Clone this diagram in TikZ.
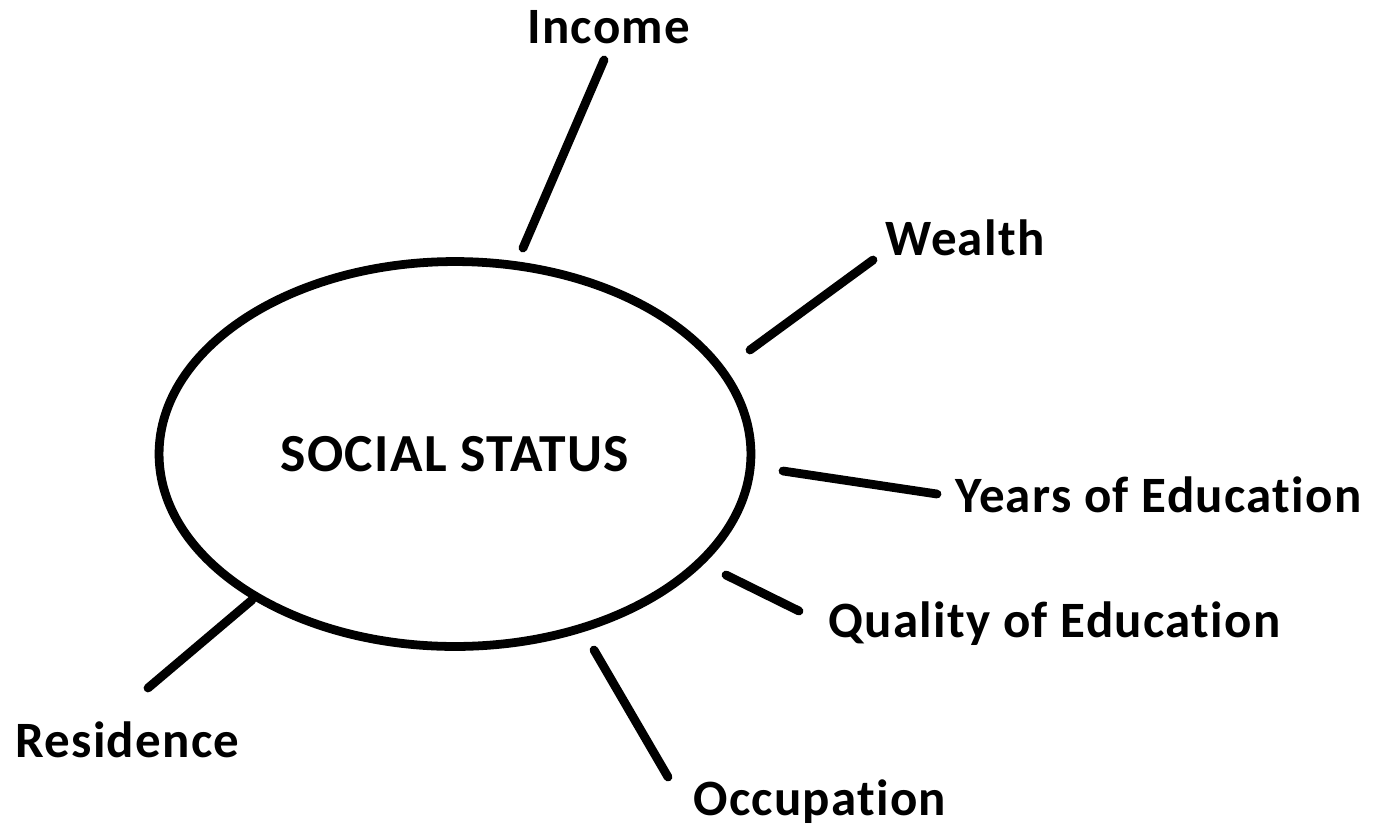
\documentclass[tikz,border=0pt]{standalone}
\usepackage{fontspec}
\setmainfont{Carlito}[LetterSpace=2.5, Ligatures={NoCommon}]
\usetikzlibrary{shapes.geometric}

\begin{document}
\begin{tikzpicture}[x=0.02cm, y=-0.02cm,
  label/.style={font=\bfseries\fontsize{29}{34}\selectfont, inner sep=0pt},
  spoke/.style={line width=5pt, line cap=round}]
  % 画布大小（单位为像素，y 轴向下）
  \useasboundingbox (0,0) rectangle (1377,826);

  % 1. 中心椭圆
  \node[ellipse, draw, line width=5pt, minimum width=11.84cm, minimum height=7.7cm,
        inner sep=0pt, font=\bfseries\fontsize{30.5}{34}\selectfont] (status) at (455,454) {SOCIAL STATUS};

  % 2. 各项指标文字
  \node[label, anchor=base west] (income)  at (527,43)  {Income};
  \node[label, anchor=base west] (wealth)  at (885,255) {Wealth};
  \node[label, anchor=base west] (years)   at (955,512) {Years of Education};
  \node[label, anchor=base west] (quality) at (828,637) {Quality of Education};
  \node[label, anchor=base west] (occup)   at (693,815) {Occupation};
  \node[label, anchor=base west] (resid)   at (15,757)  {Residence};

  % 3. 连线端点
  \coordinate (inc-a) at (523,248);  \coordinate (inc-b) at (604,60);
  \coordinate (wea-a) at (750,350);  \coordinate (wea-b) at (873,260);
  \coordinate (yea-a) at (783,471);  \coordinate (yea-b) at (937,494);
  \coordinate (qua-a) at (726,575);  \coordinate (qua-b) at (799,611);
  \coordinate (occ-a) at (594,650);  \coordinate (occ-b) at (668,777);
  \coordinate (res-a) at (252,600);  \coordinate (res-b) at (148,688);

  % 4. 连线
  \draw[spoke] (inc-a) -- (inc-b);
  \draw[spoke] (wea-a) -- (wea-b);
  \draw[spoke] (yea-a) -- (yea-b);
  \draw[spoke] (qua-a) -- (qua-b);
  \draw[spoke] (occ-a) -- (occ-b);
  \draw[spoke] (res-a) -- (res-b);

\end{tikzpicture}
\end{document}
